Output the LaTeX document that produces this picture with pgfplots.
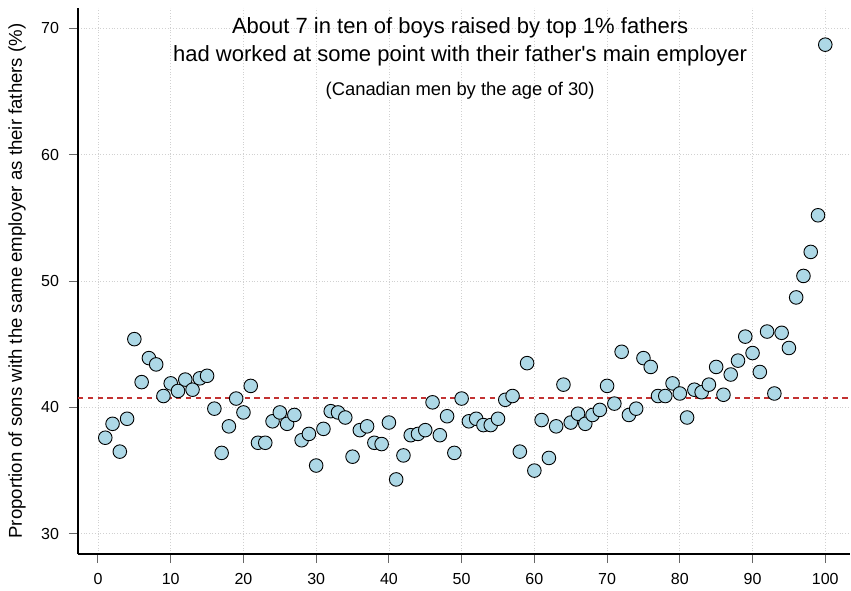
\documentclass[border=0pt]{standalone}
\usepackage{pgfplots}
\pgfplotsset{compat=1.18}
\usepackage{fontspec}
\setmainfont{Liberation Sans}
\definecolor{ptfill}{RGB}{173,216,230}
\definecolor{meanred}{RGB}{195,50,50}
\begin{document}
\begin{tikzpicture}
\useasboundingbox (-39pt,-18pt) rectangle (386.5pt,277pt);
\begin{axis}[
    at={(0,0)}, anchor=south west,
    scale only axis,
    width=386pt, height=273pt,
    xmin=-2.75, xmax=103.4,
    ymin=28.4, ymax=71.6,
    axis lines*=left,
    axis line style={black, line width=0.6pt},
    xtick={0,10,...,100},
    ytick={30,40,...,70},
    tick align=outside,
    major tick length=4.5pt,
    tick style={black!60, line width=0.5pt},
    grid=major,
    grid style={densely dotted, black!18, line width=0.4pt},
    ticklabel style={font=\fontsize{8}{9}\selectfont},
    yticklabel style={xshift=-1.5pt},
    xticklabel style={yshift=-1.5pt},
    /pgf/number format/assume math mode=true,
    ylabel={Proportion of sons with the same employer as their fathers (\%)},
    ylabel style={font=\fontsize{9.3}{10}\selectfont, at={(axis description cs:-0.079,0.5)}, anchor=center},
    clip=false,
]
\addplot[meanred, line width=0.7pt, dash pattern=on 2.7pt off 2.2pt, forget plot]
    coordinates {(-2.75,40.75)(103.4,40.75)};
\addplot[only marks, mark=*, mark size=3.4pt,
    mark options={fill=ptfill, draw=black, line width=0.45pt}]
    coordinates {
    (1,37.6)(2,38.7)(3,36.5)(4,39.1)(5,45.4)(6,42.0)(7,43.9)(8,43.4)(9,40.9)(10,41.9)
    (11,41.3)(12,42.2)(13,41.4)(14,42.3)(15,42.5)(16,39.9)(17,36.4)(18,38.5)(19,40.7)(20,39.6)
    (21,41.7)(22,37.2)(23,37.2)(24,38.9)(25,39.6)(26,38.7)(27,39.4)(28,37.4)(29,37.9)(30,35.4)
    (31,38.3)(32,39.7)(33,39.6)(34,39.2)(35,36.1)(36,38.2)(37,38.5)(38,37.2)(39,37.1)(40,38.8)
    (41,34.3)(42,36.2)(43,37.8)(44,37.9)(45,38.2)(46,40.4)(47,37.8)(48,39.3)(49,36.4)(50,40.7)
    (51,38.9)(52,39.1)(53,38.6)(54,38.6)(55,39.1)(56,40.6)(57,40.9)(58,36.5)(59,43.5)(60,35.0)
    (61,39.0)(62,36.0)(63,38.5)(64,41.8)(65,38.8)(66,39.5)(67,38.7)(68,39.4)(69,39.8)(70,41.7)
    (71,40.3)(72,44.4)(73,39.4)(74,39.9)(75,43.9)(76,43.2)(77,40.9)(78,40.9)(79,41.9)(80,41.1)
    (81,39.2)(82,41.4)(83,41.2)(84,41.8)(85,43.2)(86,41.0)(87,42.6)(88,43.7)(89,45.6)(90,44.3)
    (91,42.8)(92,46.0)(93,41.1)(94,45.9)(95,44.7)(96,48.7)(97,50.4)(98,52.3)(99,55.2)(100,68.7)
    };
\node[font=\fontsize{11}{12}\selectfont] at (rel axis cs:0.495,0.963) {About 7 in ten of boys raised by top 1\% fathers};
\node[font=\fontsize{11}{12}\selectfont] at (rel axis cs:0.495,0.913) {had worked at some point with their father\textquotesingle s main employer};
\node[font=\fontsize{9.2}{10}\selectfont] at (rel axis cs:0.495,0.848) {(Canadian men by the age of 30)};
\end{axis}
\end{tikzpicture}
\end{document}
